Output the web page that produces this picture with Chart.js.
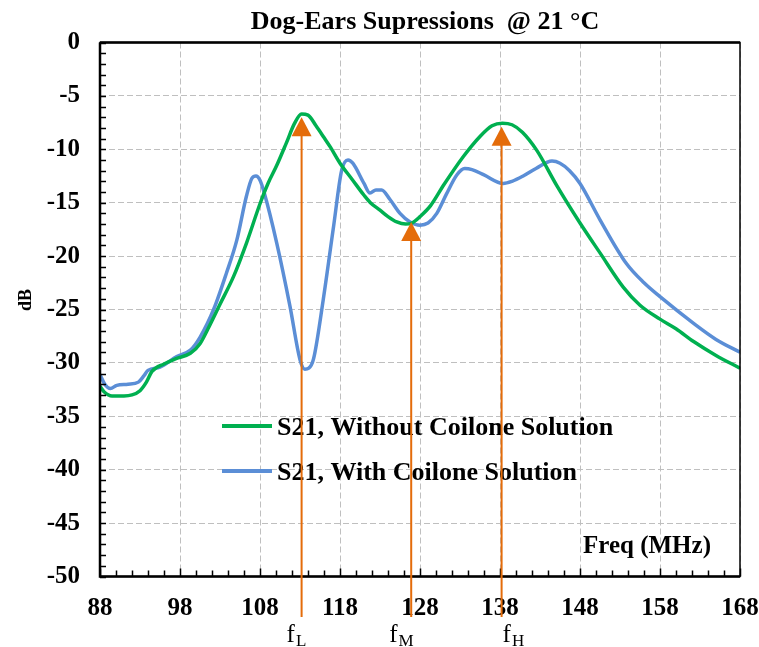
<!DOCTYPE html>
<html>
<head>
<meta charset="utf-8">
<script src="https://cdn.jsdelivr.net/npm/chart.js@4"></script>
<style>
html,body{margin:0;padding:0;background:#fff;}
#wrap{width:759px;height:647px;position:relative;}
</style>
</head>
<body>
<div id="wrap"><canvas id="c"></canvas></div>
<script>
// ---- data ----
const freqGreen = [88,88.5,89.5,91,92,93,93.8,94.5,96,97.5,99.3,100.5,101.5,103,104.7,106.3,108,109,110.1,111.3,112.3,113.2,114,115,116,116.8,118,119.5,121,121.8,123,124,125.1,126.2,127,128,129.3,131,133.4,135.5,137,138.3,139.5,140.8,142.6,145.1,148,150.5,153.4,155.5,158,160,162.2,165,168];
const dbGreen = [-32.2,-32.7,-33.1,-33.1,-33.0,-32.6,-31.8,-30.8,-30.1,-29.6,-29.1,-28.2,-26.8,-24.5,-21.9,-18.8,-15.1,-13.2,-11.5,-9.4,-7.6,-6.7,-6.8,-7.8,-8.9,-9.8,-11.3,-12.8,-14.3,-15.0,-15.7,-16.3,-16.8,-17.0,-16.9,-16.3,-15.3,-13.3,-10.7,-8.8,-7.8,-7.55,-7.7,-8.4,-10.1,-13.4,-16.9,-19.7,-22.9,-24.6,-25.9,-26.8,-28.0,-29.3,-30.5];
const freqBlue = [88,88.6,89.3,90.1,91.5,92.8,93.5,94,95.5,97.6,99.3,100.5,102.2,103.8,105.1,106.3,107,107.5,108,108.5,110.1,111.75,113,113.6,114.1,114.7,115.9,117.2,118.2,119,119.6,121,121.75,122.5,123.2,124.25,125.5,126.75,128,129,130.1,131.3,132.6,133.6,134.5,136,138.4,139.5,140.9,142.5,144.5,145.5,146.7,148,150.5,153.8,156,158,162.2,165,168];
const dbBlue = [-31.1,-32.0,-32.4,-32.1,-32.0,-31.8,-31.2,-30.7,-30.4,-29.4,-28.8,-27.6,-25.0,-21.6,-18.5,-14.4,-12.7,-12.5,-12.9,-14.0,-18.8,-24.7,-29.7,-30.6,-30.5,-29.6,-24.1,-17.2,-12.0,-11.0,-11.3,-13.2,-14.1,-13.8,-13.8,-14.7,-16.0,-16.8,-17.1,-16.9,-16.0,-14.2,-12.4,-11.8,-11.9,-12.4,-13.2,-13.0,-12.5,-11.8,-11.1,-11.3,-12.0,-13.2,-16.6,-20.7,-22.5,-23.8,-26.3,-27.8,-29.0];
const seriesNames = ["S21, Without Coilone Solution", "S21, With Coilone Solution"];
const arrowFreq = [113.2, 126.9, 138.2];
const arrowTipDb = [-7.0, -16.8, -7.9];
const arrowSub = ["L", "M", "H"];
const titleText = "Dog-Ears Supressions  @ 21 °C";
const xTitle = "Freq (MHz)";
const yTitle = "dB";

// ---- style ----
const GREEN = "#00B050", BLUE = "#5B8ED6", ORANGE = "#E46C0A";
const SERIF = "'Liberation Serif','Times New Roman',serif";
const labelDx = [-15, -22, 1];

function pts(xs, ys){ return xs.map((x,i)=>({x:x, y:ys[i]})); }

const deco = {
  id: 'deco',
  afterDraw(chart){
    const ctx = chart.ctx, a = chart.chartArea;
    const xs = chart.scales.x, ys = chart.scales.y;
    ctx.save();
    // tick marks (inside)
    ctx.strokeStyle = '#000'; ctx.lineWidth = 1.5;
    ctx.beginPath();
    for(let v=-50; v<=0; v+=1){
      const y = Math.round(ys.getPixelForValue(v))+0.5;
      ctx.moveTo(a.left, y); ctx.lineTo(a.left+6, y);
    }
    for(let v=88; v<=168; v+=2){
      const x = Math.round(xs.getPixelForValue(v))+0.5;
      const len = ((v-88)%10===0) ? 8 : 6;
      ctx.moveTo(x, a.bottom); ctx.lineTo(x, a.bottom-len);
    }
    ctx.stroke();
    // frame
    ctx.lineWidth = 1.5;
    ctx.strokeRect(a.left, a.top, a.right-a.left, a.bottom-a.top);
    ctx.lineWidth = 2.5;
    ctx.beginPath();
    ctx.moveTo(a.left, a.top); ctx.lineTo(a.left, a.bottom); ctx.lineTo(a.right, a.bottom);
    ctx.moveTo(a.left, a.top); ctx.lineTo(a.right, a.top);
    ctx.stroke();

    // title
    ctx.fillStyle = '#000';
    ctx.font = "bold 26px " + SERIF;
    ctx.textAlign = 'center'; ctx.textBaseline = 'alphabetic';
    ctx.fillText(titleText, 425, 29);
    // x title inside
    ctx.textAlign = 'left';
    ctx.font = "bold 25px " + SERIF;
    ctx.fillText(xTitle, 583, 553);
    // y title
    ctx.save();
    ctx.translate(26, 300); ctx.rotate(-Math.PI/2);
    ctx.font = "bold 18px " + SERIF;
    ctx.textAlign = 'center'; ctx.textBaseline = 'middle';
    ctx.fillText(yTitle, 0, 0);
    ctx.restore();

    // legend
    const cols = [GREEN, BLUE];
    const ly = [426, 471];
    ctx.font = "bold 26px " + SERIF;
    ctx.textAlign = 'left'; ctx.textBaseline = 'alphabetic';
    for(let i=0;i<2;i++){
      ctx.strokeStyle = cols[i]; ctx.lineWidth = 4;
      ctx.beginPath(); ctx.moveTo(222, ly[i]); ctx.lineTo(272, ly[i]); ctx.stroke();
      ctx.fillStyle = '#000';
      ctx.fillText(seriesNames[i], 277, ly[i]+9);
    }

    // arrows
    for(let i=0;i<arrowFreq.length;i++){
      const x = xs.getPixelForValue(arrowFreq[i]);
      const ty = ys.getPixelForValue(arrowTipDb[i]);
      ctx.strokeStyle = ORANGE; ctx.lineWidth = 2;
      ctx.beginPath(); ctx.moveTo(x, ty+10); ctx.lineTo(x, 617); ctx.stroke();
      ctx.fillStyle = ORANGE;
      ctx.beginPath(); ctx.moveTo(x, ty); ctx.lineTo(x+10, ty+19); ctx.lineTo(x-10, ty+19); ctx.closePath(); ctx.fill();
      // label
      ctx.fillStyle = '#000';
      ctx.font = "25px " + SERIF;
      const lx = x + labelDx[i];
      ctx.fillText("f", lx, 642);
      const fw = ctx.measureText("f").width;
      ctx.font = "17px " + SERIF;
      ctx.fillText(arrowSub[i], lx + fw + 1, 646);
    }
    ctx.restore();
  }
};

new Chart(document.getElementById('c'), {
  type: 'scatter',
  data: {
    datasets: [
      { label: seriesNames[0], data: pts(freqGreen, dbGreen), showLine: true, borderColor: GREEN, backgroundColor: GREEN, borderWidth: 3.5, pointRadius: 0, cubicInterpolationMode: 'monotone' },
      { label: seriesNames[1], data: pts(freqBlue, dbBlue), showLine: true, borderColor: BLUE, backgroundColor: BLUE, borderWidth: 3.5, pointRadius: 0, cubicInterpolationMode: 'monotone' }
    ]
  },
  options: {
    responsive: true, maintainAspectRatio: false, animation: false,
    devicePixelRatio: 1,
    layout: { padding: { top: 42.5, right: 19, left: 0, bottom: 0 } },
    plugins: { legend: { display: false }, title: { display: false }, tooltip: { enabled: false } },
    scales: {
      x: {
        type: 'linear', min: 88, max: 168,
        ticks: { stepSize: 10, color: '#000', padding: 17, font: { family: SERIF, size: 25, weight: 'bold' }, maxRotation: 0 },
        grid: { color: '#BFBFBF', lineWidth: 1, drawTicks: false },
        border: { display: false, dash: [6,3] },
        afterFit(s){ s.height = 70.5; s.paddingLeft = 0; s.paddingRight = 0; }
      },
      y: {
        type: 'linear', min: -50, max: 0,
        ticks: { stepSize: 5, color: '#000', padding: 20, font: { family: SERIF, size: 25, weight: 'bold' } },
        grid: { color: '#BFBFBF', lineWidth: 1, drawTicks: false },
        border: { display: false, dash: [6,3] },
        afterFit(s){ s.width = 100; s.paddingTop = 0; s.paddingBottom = 0; }
      }
    }
  },
  plugins: [deco]
});
</script>
</body>
</html>
